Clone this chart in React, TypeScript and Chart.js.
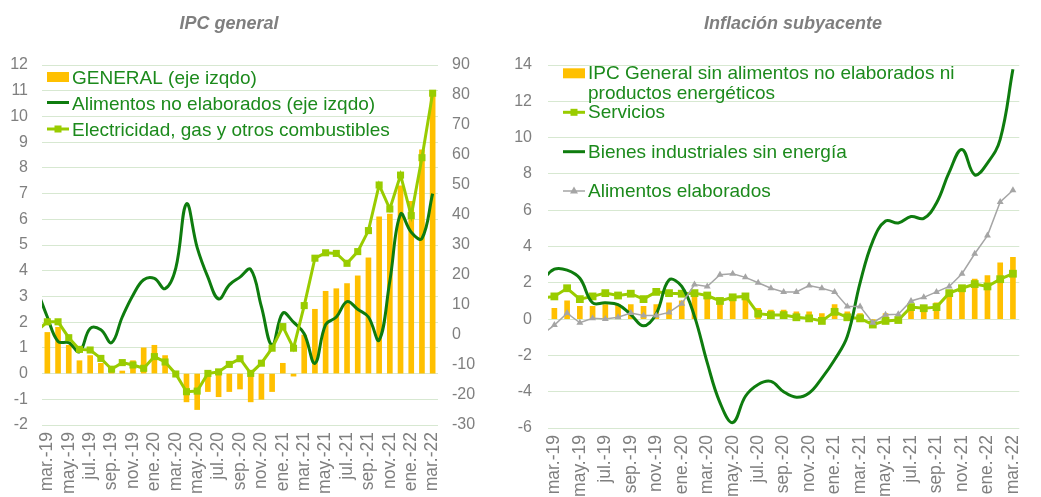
import React, { useEffect, useRef } from 'react';
import { Chart, registerables } from 'chart.js';

Chart.register(...registerables);

// ---------- DATA ----------
// Month categories (feb.-19 is only used so the lines enter from the left edge, as in the source)
const months = [
  'feb.-19', 'mar.-19', 'abr.-19', 'may.-19', 'jun.-19', 'jul.-19', 'ago.-19', 'sep.-19', 'oct.-19', 'nov.-19', 'dic.-19',
  'ene.-20', 'feb.-20', 'mar.-20', 'abr.-20', 'may.-20', 'jun.-20', 'jul.-20', 'ago.-20', 'sep.-20', 'oct.-20', 'nov.-20', 'dic.-20',
  'ene.-21', 'feb.-21', 'mar.-21', 'abr.-21', 'may.-21', 'jun.-21', 'jul.-21', 'ago.-21', 'sep.-21', 'oct.-21', 'nov.-21', 'dic.-21',
  'ene.-22', 'feb.-22', 'mar.-22',
];

// IPC general panel
const generalIPC = [
  null, 1.6, 1.8, 1.1, 0.5, 0.7, 0.4, 0.1, 0.1, 0.5, 1.0,
  1.1, 0.7, 0.0, -1.1, -1.4, -0.7, -0.9, -0.7, -0.6, -1.1, -1.0, -0.7,
  0.4, -0.1, 1.5, 2.5, 3.2, 3.3, 3.5, 3.8, 4.5, 6.1, 6.2, 7.3,
  6.7, 8.7, 10.9,
];
const alimentosNoElaborados = [
  3.3, 2.2, 1.25, 1.2, 0.85, 1.75, 1.7, 1.2, 2.2, 3.05, 3.65,
  3.7, 3.3, 4.1, 6.6, 4.9, 3.75, 2.9, 3.45, 3.75, 4.05, 2.6, 1.1,
  2.35, 2.0, 1.55, 0.4, 1.9, 2.2, 2.8, 2.5, 2.2, 1.3, 3.6, 6.2,
  5.5, 5.25, 7.0,
];
const electricidadGas = [
  1.2, 4.4, 4.4, -0.9, -4.8, -5.0, -7.8, -11.4, -9.2, -10.0, -11.1,
  -7.2, -9.0, -13.0, -18.9, -18.7, -12.8, -12.3, -9.8, -7.9, -12.8, -9.4, -4.4,
  2.8, -4.4, 9.8, 25.6, 27.4, 27.2, 23.9, 27.8, 34.8, 50.0, 42.0, 53.3,
  39.8, 59.1, 80.6,
];

// Inflación subyacente panel
const subyacente = [
  null, 0.6, 1.0, 0.7, 0.7, 0.8, 0.8, 0.8, 0.7, 0.8, 0.9,
  1.0, 1.25, 1.1, 1.0, 1.1, 1.1, 0.6, 0.5, 0.5, 0.4, 0.4, 0.3,
  0.8, 0.4, 0.3, -0.2, 0.3, 0.1, 0.6, 0.6, 0.9, 1.4, 1.7, 2.2,
  2.4, 3.1, 3.4,
];
const servicios = [
  1.15, 1.25, 1.7, 1.1, 1.25, 1.43, 1.3, 1.4, 1.1, 1.5, 1.43,
  1.4, 1.43, 1.3, 1.0, 1.2, 1.25, 0.3, 0.22, 0.22, 0.1, 0.04, -0.1,
  0.4, 0.1, 0.04, -0.3, -0.1, -0.05, 0.66, 0.6, 0.66, 1.43, 1.7, 1.93,
  1.8, 2.2, 2.5,
];
const bienesIndustriales = [
  2.1, 2.75, 2.7, 2.25, 0.9, 0.9, 0.8, 0.25, -0.37, 0.3, 2.15,
  1.8, 0.15, -2.4, -4.6, -5.7, -4.25, -3.6, -3.43, -4.0, -4.3, -4.07, -3.25,
  -2.24, -0.95, 2.0, 4.3, 5.4, 5.3, 5.65, 5.55, 6.4, 8.1, 9.35, 7.95,
  8.6, 9.9, 13.76,
];
const alimentosElaborados = [
  -0.87, -0.33, 0.33, -0.2, 0.04, 0.0, 0.1, 0.33, 0.2, 0.2, 0.37,
  0.85, 1.9, 1.8, 2.45, 2.5, 2.3, 2.0, 1.7, 1.5, 1.5, 1.85, 1.7,
  1.5, 0.7, 0.7, -0.2, 0.24, 0.27, 1.0, 1.2, 1.5, 1.8, 2.5, 3.6,
  4.6, 6.45, 7.1,
];

// x tick labels shown: every second month starting at mar.-19
const xTickIndexes = months.map((_, i) => i).filter((i) => i % 2 === 1);

// ---------- STYLE ----------
const GOLD = '#FFC000';
const DARK_GREEN = '#0E7C0E';
const LIGHT_GREEN = '#99CC00';
const GRAY = '#A5A5A5';
const GRID = '#D7E8D1';
const TICK = '#7F7F7F';
const LEGEND_TEXT = '#1C8A1C';
const FONT = '"Liberation Sans", Arial, sans-serif';

const toPoints = (arr: (number | null)[]) => arr.map((y, i) => ({ x: i, y }));
const leftClip = { left: 0, right: false, top: false, bottom: false };

type LegendEntry = { kind: string; sy: number; lines: string[]; baselines: number[] };

function drawSymbol(ctx: CanvasRenderingContext2D, kind: string, sx: number, sy: number) {
  ctx.save();
  if (kind === 'bar') {
    ctx.fillStyle = GOLD;
    ctx.fillRect(sx, sy - 5, 22, 10);
  } else {
    const color = kind === 'line' ? DARK_GREEN : kind === 'lineSquare' ? LIGHT_GREEN : GRAY;
    ctx.strokeStyle = color;
    ctx.lineWidth = kind === 'lineTriangle' ? 1.5 : 3;
    ctx.beginPath();
    ctx.moveTo(sx, sy);
    ctx.lineTo(sx + 22, sy);
    ctx.stroke();
    ctx.fillStyle = color;
    if (kind === 'lineSquare') {
      ctx.fillRect(sx + 11 - 3.5, sy - 3.5, 7, 7);
    } else if (kind === 'lineTriangle') {
      ctx.beginPath();
      ctx.moveTo(sx + 11, sy - 4.5);
      ctx.lineTo(sx + 15, sy + 2.5);
      ctx.lineTo(sx + 7, sy + 2.5);
      ctx.closePath();
      ctx.fill();
    }
  }
  ctx.restore();
}

function overlayPlugin(title: string, titleX: number, sx: number, tx: number, entries: LegendEntry[]) {
  return {
    id: 'overlay',
    afterDraw(chart: any) {
      const ctx: CanvasRenderingContext2D = chart.ctx;
      ctx.save();
      ctx.font = `italic bold 18px ${FONT}`;
      ctx.fillStyle = '#7F7F7F';
      ctx.textAlign = 'center';
      ctx.textBaseline = 'alphabetic';
      ctx.fillText(title, titleX, 29);
      ctx.font = `19px ${FONT}`;
      ctx.textAlign = 'left';
      for (const e of entries) {
        drawSymbol(ctx, e.kind, sx, e.sy);
        ctx.fillStyle = LEGEND_TEXT;
        e.lines.forEach((t, k) => ctx.fillText(t, tx, e.baselines[k]));
      }
      ctx.restore();
    },
  };
}

function xScale(height: number) {
  return {
    type: 'linear',
    min: 0.5,
    max: months.length - 0.5,
    offset: false,
    grid: { display: false, drawTicks: false },
    border: { display: false },
    afterBuildTicks: (s: any) => {
      s.ticks = xTickIndexes.map((v) => ({ value: v }));
    },
    afterFit: (s: any) => {
      s.height = height;
    },
    ticks: {
      autoSkip: false,
      maxRotation: 90,
      minRotation: 90,
      padding: 7,
      color: TICK,
      font: { family: FONT, size: 17.5 },
      callback: (v: number) => months[v] ?? '',
    },
  };
}

function leftConfig(): any {
  return {
    type: 'bar',
    data: {
      datasets: [
        {
          type: 'line',
          label: 'Electricidad, gas y otros combustibles',
          data: toPoints(electricidadGas),
          yAxisID: 'y1',
          borderColor: LIGHT_GREEN,
          backgroundColor: LIGHT_GREEN,
          borderWidth: 3,
          pointStyle: 'rect',
          pointRadius: 5,
          pointBorderWidth: 0,
          tension: 0,
          order: 1,
          clip: leftClip,
        },
        {
          type: 'line',
          label: 'Alimentos no elaborados (eje izqdo)',
          data: toPoints(alimentosNoElaborados),
          yAxisID: 'y',
          borderColor: DARK_GREEN,
          borderWidth: 3,
          pointRadius: 0,
          tension: 0.4,
          order: 2,
          clip: leftClip,
        },
        {
          type: 'bar',
          label: 'GENERAL (eje izqdo)',
          data: toPoints(generalIPC),
          yAxisID: 'y',
          backgroundColor: GOLD,
          barThickness: 5,
          order: 3,
        },
      ],
    },
    options: {
      animation: false,
      responsive: false,
      devicePixelRatio: 1,
      layout: { padding: { top: 65, left: 0, right: 0, bottom: 0 } },
      plugins: { legend: { display: false }, tooltip: { enabled: false } },
      scales: {
        x: xScale(72),
        y: {
          position: 'left',
          min: -2,
          max: 12,
          ticks: { stepSize: 1, padding: 14, color: TICK, font: { family: FONT, size: 16 } },
          grid: { color: GRID, drawTicks: false, lineWidth: 1 },
          border: { display: false },
          afterFit: (s: any) => {
            s.width = 42;
          },
        },
        y1: {
          position: 'right',
          min: -30,
          max: 90,
          ticks: { stepSize: 10, padding: 14, color: TICK, font: { family: FONT, size: 16 } },
          grid: { display: false, drawTicks: false },
          border: { display: false },
          afterFit: (s: any) => {
            s.width = 62;
          },
        },
      },
    },
    plugins: [
      overlayPlugin('IPC general', 229, 47, 72, [
        { kind: 'bar', sy: 77, lines: ['GENERAL (eje izqdo)'], baselines: [83.5] },
        { kind: 'line', sy: 102.5, lines: ['Alimentos no elaborados (eje izqdo)'], baselines: [109.5] },
        { kind: 'lineSquare', sy: 129, lines: ['Electricidad, gas y otros combustibles'], baselines: [136] },
      ]),
    ],
  };
}

function rightConfig(): any {
  return {
    type: 'bar',
    data: {
      datasets: [
        {
          type: 'line',
          label: 'Alimentos elaborados',
          data: toPoints(alimentosElaborados),
          borderColor: GRAY,
          backgroundColor: GRAY,
          borderWidth: 1.5,
          pointStyle: 'triangle',
          pointRadius: 4,
          pointBorderWidth: 0,
          tension: 0,
          order: 1,
          clip: leftClip,
        },
        {
          type: 'line',
          label: 'Bienes industriales sin energía',
          data: toPoints(bienesIndustriales),
          borderColor: DARK_GREEN,
          borderWidth: 3,
          pointRadius: 0,
          tension: 0.4,
          order: 2,
          clip: leftClip,
        },
        {
          type: 'line',
          label: 'Servicios',
          data: toPoints(servicios),
          borderColor: LIGHT_GREEN,
          backgroundColor: LIGHT_GREEN,
          borderWidth: 3,
          pointStyle: 'rect',
          pointRadius: 5.5,
          pointBorderWidth: 0,
          tension: 0,
          order: 3,
          clip: leftClip,
        },
        {
          type: 'bar',
          label: 'IPC General sin alimentos no elaborados ni productos energéticos',
          data: toPoints(subyacente),
          backgroundColor: GOLD,
          barThickness: 5,
          order: 4,
        },
      ],
    },
    options: {
      animation: false,
      responsive: false,
      devicePixelRatio: 1,
      layout: { padding: { top: 65, left: 0, right: 4, bottom: 0 } },
      plugins: { legend: { display: false }, tooltip: { enabled: false } },
      scales: {
        x: xScale(69),
        y: {
          position: 'left',
          min: -6,
          max: 14,
          ticks: { stepSize: 2, padding: 16, color: TICK, font: { family: FONT, size: 16 } },
          grid: { color: GRID, drawTicks: false, lineWidth: 1 },
          border: { display: false },
          afterFit: (s: any) => {
            s.width = 48;
          },
        },
      },
    },
    plugins: [
      overlayPlugin('Inflación subyacente', 293, 63, 88, [
        {
          kind: 'bar',
          sy: 73.3,
          lines: ['IPC General sin alimentos no elaborados ni', 'productos energéticos'],
          baselines: [78.8, 98.6],
        },
        { kind: 'lineSquare', sy: 112.3, lines: ['Servicios'], baselines: [118] },
        { kind: 'line', sy: 151.7, lines: ['Bienes industriales sin energía'], baselines: [158] },
        { kind: 'lineTriangle', sy: 191, lines: ['Alimentos elaborados'], baselines: [197] },
      ]),
    ],
  };
}

function ChartCanvas({ left, width, height, build }: { left: number; width: number; height: number; build: () => any }) {
  const ref = useRef<HTMLCanvasElement | null>(null);
  useEffect(() => {
    if (!ref.current) return;
    const chart = new Chart(ref.current, build());
    return () => chart.destroy();
  }, []);
  return (
    <canvas
      ref={ref}
      width={width}
      height={height}
      style={{ position: 'absolute', left, top: 0, width, height, display: 'block' }}
    />
  );
}

export default function App() {
  return (
    <div
      style={{
        position: 'absolute',
        left: 0,
        top: 0,
        width: 1041,
        height: 497,
        background: '#ffffff',
        overflow: 'hidden',
      }}
    >
      <ChartCanvas left={0} width={500} height={497} build={leftConfig} />
      <ChartCanvas left={500} width={541} height={497} build={rightConfig} />
    </div>
  );
}
